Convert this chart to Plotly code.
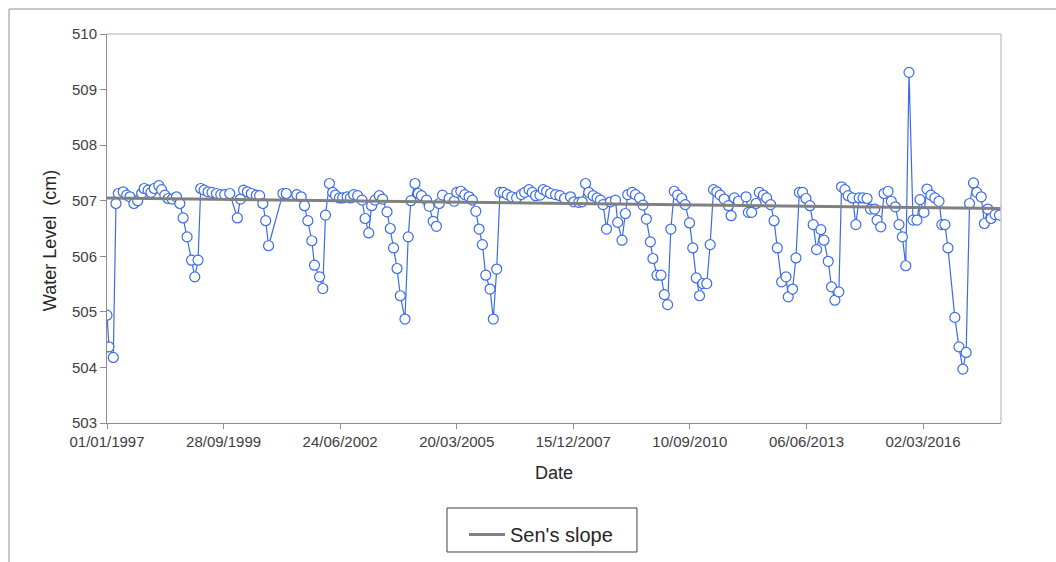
import plotly.graph_objects as go
import pandas as pd

# ---- data ----
start_date = "1997-01-01"
days_since_start = [
    0, 17, 54, 77, 97, 139, 169, 197, 231, 263, 297, 319, 353, 377, 405, 445, 468, 496, 525, 559,
    596, 625, 653, 687, 725, 753, 781, 804, 833, 867, 901, 939, 976, 1010, 1053, 1118, 1144, 1172, 1204, 1238,
    1281, 1309, 1337, 1361, 1386, 1509, 1538, 1628, 1666, 1694, 1723, 1757, 1780, 1823, 1851, 1874, 1908, 1936, 1960, 1994,
    2022, 2060, 2088, 2116, 2150, 2188, 2214, 2245, 2270, 2299, 2336, 2364, 2402, 2430, 2458, 2488, 2516, 2556, 2584, 2607,
    2642, 2670, 2698, 2741, 2764, 2798, 2826, 2850, 2878, 2935, 2978, 3001, 3035, 3069, 3106, 3134, 3164, 3192, 3220, 3249,
    3286, 3314, 3343, 3371, 3400, 3434, 3472, 3514, 3554, 3583, 3620, 3648, 3677, 3714, 3742, 3771, 3805, 3848, 3885, 3925,
    3976, 4005, 4047, 4076, 4105, 4133, 4170, 4204, 4233, 4255, 4285, 4319, 4362, 4381, 4418, 4447, 4467, 4504, 4533, 4569,
    4598, 4627, 4661, 4683, 4718, 4752, 4781, 4809, 4837, 4866, 4895, 4931, 4960, 4997, 5025, 5055, 5083, 5111, 5145, 5174,
    5203, 5231, 5260, 5294, 5331, 5354, 5382, 5417, 5482, 5502, 5530, 5568, 5596, 5631, 5659, 5693, 5722, 5750, 5787, 5825,
    5844, 5881, 5910, 5939, 5967, 5996, 6030, 6058, 6087, 6124, 6150, 6187, 6215, 6244, 6278, 6301, 6330, 6358, 6395, 6424,
    6452, 6486, 6520, 6549, 6586, 6606, 6638, 6666, 6700, 6728, 6763, 6794, 6823, 6852, 6880, 6914, 6948, 6974, 7008, 7034,
    7068, 7102, 7137, 7162, 7188, 7214, 7273, 7308, 7342, 7370, 7399, 7433, 7462, 7499, 7527, 7556, 7584, 7618, 7656,
]
water_level = [
    504.94, 504.37, 504.18, 506.95, 507.13, 507.16, 507.10, 507.07, 506.95, 507.00, 507.13, 507.22, 507.19, 507.15, 507.22, 507.27, 507.20, 507.10, 507.04, 507.03,
    507.07, 506.95, 506.69, 506.35, 505.93, 505.63, 505.93, 507.22, 507.19, 507.16, 507.15, 507.13, 507.11, 507.11, 507.13, 506.69, 507.03, 507.19, 507.16, 507.13,
    507.10, 507.09, 506.95, 506.64, 506.19, 507.13, 507.13, 507.11, 507.07, 506.91, 506.64, 506.28, 505.84, 505.63, 505.42, 506.74, 507.31, 507.15, 507.10, 507.05,
    507.05, 507.07, 507.05, 507.11, 507.09, 507.01, 506.68, 506.42, 506.91, 507.01, 507.09, 507.03, 506.80, 506.50, 506.15, 505.78, 505.29, 504.87, 506.35, 507.00,
    507.31, 507.13, 507.09, 507.01, 506.90, 506.63, 506.54, 506.95, 507.10, 507.04, 506.99, 507.15, 507.17, 507.11, 507.07, 507.01, 506.81, 506.49, 506.21, 505.66,
    505.41, 504.87, 505.77, 507.15, 507.15, 507.11, 507.07, 507.05, 507.11, 507.15, 507.20, 507.15, 507.09, 507.10, 507.20, 507.17, 507.13, 507.11, 507.09, 507.04,
    507.07, 506.98, 506.97, 506.98, 507.31, 507.15, 507.09, 507.05, 507.01, 506.93, 506.49, 506.98, 507.01, 506.61, 506.29, 506.77, 507.11, 507.15, 507.11, 507.05,
    506.92, 506.67, 506.26, 505.96, 505.66, 505.66, 505.31, 505.13, 506.49, 507.17, 507.10, 507.04, 506.93, 506.60, 506.15, 505.61, 505.29, 505.51, 505.51, 506.21,
    507.20, 507.16, 507.10, 507.03, 506.91, 506.73, 507.05, 506.99, 507.07, 506.79, 506.79, 506.95, 507.15, 507.10, 507.05, 506.93, 506.64, 506.15, 505.54, 505.63,
    505.27, 505.41, 505.97, 507.15, 507.15, 507.04, 506.91, 506.57, 506.12, 506.48, 506.29, 505.91, 505.45, 505.21, 505.36, 507.25, 507.20, 507.09, 507.05, 506.57,
    507.05, 507.05, 507.04, 506.85, 506.85, 506.65, 506.53, 507.13, 507.17, 506.99, 506.89, 506.57, 506.35, 505.83, 509.31, 506.65, 506.65, 507.02, 506.79, 507.21,
    507.10, 507.05, 506.99, 506.57, 506.57, 506.15, 504.90, 504.37, 503.97, 504.27, 506.95, 507.32, 507.15, 507.07, 506.59, 506.85, 506.68, 506.75, 506.74,
]

sen_dates = ["1997-01-01", "2017-12-31"]
sen_values = [507.05, 506.86]

x_tick_dates = ["1997-01-01", "1999-09-28", "2002-06-24", "2005-03-20",
                "2007-12-15", "2010-09-10", "2013-06-06", "2016-03-02"]
x_tick_labels = ["01/01/1997", "28/09/1999", "24/06/2002", "20/03/2005",
                 "15/12/2007", "10/09/2010", "06/06/2013", "02/03/2016"]
y_ticks = [503, 504, 505, 506, 507, 508, 509, 510]

obs_dates = pd.Timestamp(start_date) + pd.to_timedelta(days_since_start, unit="D")

fig = go.Figure()
fig.add_trace(go.Scatter(
    x=obs_dates, y=water_level, mode="lines+markers", showlegend=False,
    line=dict(color="#3B6CE8", width=1.2),
    marker=dict(symbol="circle", size=10, color="white",
                line=dict(color="#3B6CE8", width=1.2)),
))
fig.add_trace(go.Scatter(
    x=sen_dates, y=sen_values, mode="lines", name="Sen's slope",
    line=dict(color="#808080", width=3),
))

axis_col = "#8C8C8C"
fig.update_layout(
    width=1056, height=562,
    margin=dict(l=107, r=55, t=34, b=139, autoexpand=False),
    paper_bgcolor="white", plot_bgcolor="white",
    font=dict(family="Arial, Liberation Sans, sans-serif", color="#262626"),
    xaxis=dict(
        type="date", range=[sen_dates[0], sen_dates[1]],
        tickmode="array", tickvals=x_tick_dates, ticktext=x_tick_labels,
        tickfont=dict(size=15, color="#404040"),
        showgrid=False, zeroline=False,
        showline=True, linecolor=axis_col, linewidth=1,
        ticks="outside", ticklen=5, tickcolor=axis_col,
        title=dict(text="Date", font=dict(size=18, color="#262626"), standoff=17),
    ),
    yaxis=dict(
        range=[503, 510], tickmode="array", tickvals=y_ticks,
        tickfont=dict(size=15, color="#404040"),
        showgrid=False, zeroline=False,
        showline=True, linecolor=axis_col, linewidth=1,
        ticks="outside", ticklen=6, tickcolor=axis_col,
    ),
    annotations=[
        dict(text="Water Level  (cm)", textangle=-90, xref="paper", yref="paper",
             x=-0.0638, y=0.47, xanchor="center", yanchor="middle", showarrow=False,
             font=dict(size=18, color="#262626")),
    ],
    legend=dict(
        xref="container", yref="container",
        x=0.4394, y=0.0836, xanchor="left", yanchor="top",
        borderwidth=0, bgcolor="rgba(0,0,0,0)", itemwidth=36,
        font=dict(size=20, color="#262626"),
    ),
    shapes=[
        # plot-area frame (top and right)
        dict(type="line", xref="paper", yref="paper", x0=0, x1=1, y0=1, y1=1,
             line=dict(color="#C8C8C8", width=1.5)),
        dict(type="line", xref="paper", yref="paper", x0=1, x1=1, y0=0, y1=1,
             line=dict(color="#C8C8C8", width=1.5)),
        # outer chart frame (left and top)
        dict(type="line", xref="paper", yref="paper", x0=-0.1096, x1=-0.1096, y0=-0.36, y1=1.0643,
             line=dict(color="#B4B4B4", width=1.5)),
        dict(type="line", xref="paper", yref="paper", x0=-0.1096, x1=1.07, y0=1.0643, y1=1.0643,
             line=dict(color="#B4B4B4", width=1.5)),
        # legend frame
        dict(type="rect", xref="paper", yref="paper", x0=0.3803, x1=0.5928, y0=-0.3316, y1=-0.2185,
             line=dict(color="#404040", width=1), fillcolor="rgba(0,0,0,0)", layer="below"),
    ],
)

fig.write_html("out.html")
